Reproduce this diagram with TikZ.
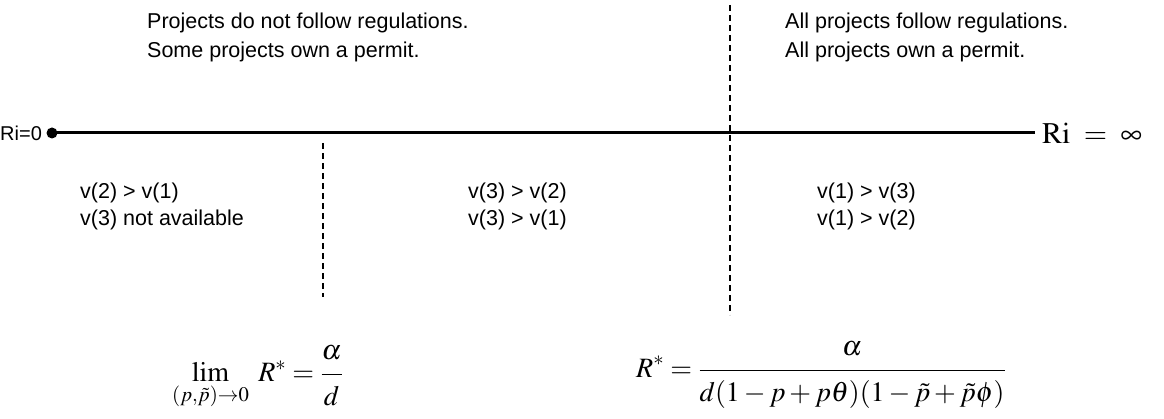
\documentclass[tikz,border=0pt]{standalone}
\usepackage{mathptmx}
\usepackage[no-math]{fontspec}
\setmainfont{Liberation Sans}
\begin{document}
\begin{tikzpicture}[x=1pt,y=-1pt,
  lbl/.style={anchor=base west,inner sep=0pt,font=\fontsize{21.5}{29}\selectfont},
  divider/.style={line width=2pt,dash pattern=on 6pt off 4pt},
  axisline/.style={line width=3pt},
  formula/.style={inner sep=0pt,font=\fontsize{28}{32}\selectfont}]
\useasboundingbox (0,0) rectangle (1164,419);
% axis
\fill (52,133) circle (5.5);
\coordinate (left) at (52,133);
\coordinate (right) at (1035,133);
\draw[axisline] (left) -- (right);
\node[lbl,font=\fontsize{20}{24}\selectfont] (r0) at (0,141) {Ri=0};
\node[formula,anchor=west,font=\fontsize{30}{34}\selectfont] (rinf) at (1042,133) {$\mathrm{Ri}\;=\;\infty$};
% dividers
\coordinate (d1t) at (323,143);
\coordinate (d1b) at (323,297);
\coordinate (d2t) at (730,5);
\coordinate (d2b) at (730,315);
\draw[divider] (d1t) -- (d1b);
\draw[divider] (d2t) -- (d2b);
% top texts
\node[lbl] (t1) at (147,28.5) {Projects do not follow regulations.};
\node[lbl] (t2) at (147,57.5) {Some projects own a permit.};
\node[lbl] (t3) at (785,28.5) {All projects follow regulations.};
\node[lbl] (t4) at (785,57.5) {All projects own a permit.};
% region texts
\node[lbl] (a1) at (80,199) {v(2) > v(1)};
\node[lbl] (a2) at (80,226) {v(3) not available};
\node[lbl] (b1) at (468,199) {v(3) > v(2)};
\node[lbl] (b2) at (468,226) {v(3) > v(1)};
\node[lbl] (c1) at (817,199) {v(1) > v(3)};
\node[lbl] (c2) at (817,226) {v(1) > v(2)};
% formulas
\node[formula,anchor=west] (f1) at (172,378) {$\displaystyle\lim_{(p,\tilde p)\to 0}\; R^{*} = \frac{\alpha\rule[-11pt]{0pt}{11pt}}{\rule{0pt}{27pt}d}$};
\node[formula,anchor=west] (f2) at (636,375) {$\displaystyle R^{*} = \frac{\alpha\rule[-11pt]{0pt}{11pt}}{\rule{0pt}{27pt}d(1-p+p\theta)(1-\tilde p+\tilde p\phi)}$};
\end{tikzpicture}
\end{document}
